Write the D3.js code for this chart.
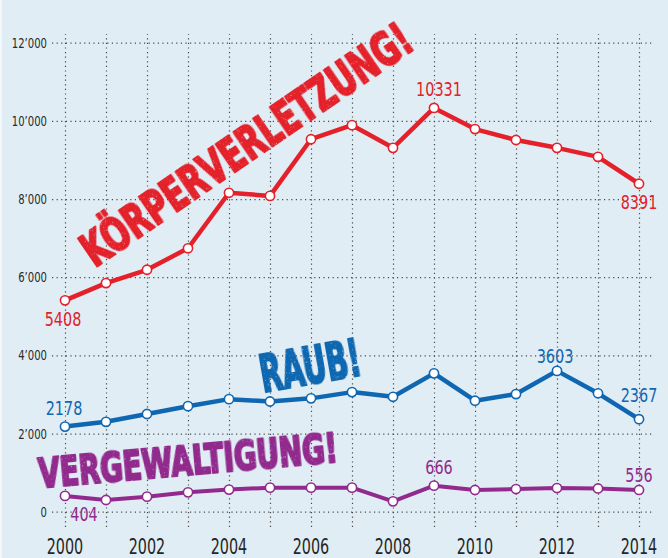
<!DOCTYPE html>
<html>
<head>
<meta charset="utf-8">
<script src="https://cdn.jsdelivr.net/npm/d3@7"></script>
<style>
  html, body { margin: 0; padding: 0; background: #e1edf4; }
  svg { display: block; }
</style>
</head>
<body>
<div id="chart"></div>
<script>
const WIDTH = 668;
const HEIGHT = 558;

// x = year, y = count
const years = [2000, 2001, 2002, 2003, 2004, 2005, 2006, 2007, 2008, 2009, 2010, 2011, 2012, 2013, 2014];
const yearTicks = [2000, 2002, 2004, 2006, 2008, 2010, 2012, 2014];
const valueTicks = [0, 2000, 4000, 6000, 8000, 10000, 12000];

const koerperverletzung = [5408, 5850, 6190, 6740, 8160, 8080, 9530, 9890, 9310, 10331, 9790, 9510, 9310, 9080, 8391];
const raub = [2178, 2300, 2500, 2700, 2880, 2820, 2900, 3060, 2940, 3540, 2840, 3010, 3603, 3030, 2367];
const vergewaltigung = [404, 300, 385, 495, 565, 615, 615, 615, 265, 666, 555, 580, 605, 595, 556];

const RED = "#e4202a";
const BLUE = "#0f67b1";
const PURPLE = "#922a8e";

const NARROW = "'DejaVu Sans Condensed', 'DejaVu Sans', sans-serif";

// which points get a number, and where it sits relative to the point
const labels = [
  { series: "k", year: 2000, dx: -2, dy: 26 },
  { series: "k", year: 2009, dx: 5, dy: -12 },
  { series: "k", year: 2014, dx: 0, dy: 25 },
  { series: "r", year: 2000, dx: -1, dy: -12 },
  { series: "r", year: 2012, dx: -2, dy: -8 },
  { series: "r", year: 2014, dx: 0, dy: -17 },
  { series: "v", year: 2000, dx: 19, dy: 25 },
  { series: "v", year: 2009, dx: 5, dy: -12 },
  { series: "v", year: 2014, dx: 0, dy: -8 }
];

const series = [
  { key: "k", values: koerperverletzung, color: RED, width: 4.5 },
  { key: "r", values: raub, color: BLUE, width: 4.5 },
  { key: "v", values: vergewaltigung, color: PURPLE, width: 4 }
];

// squeeze a text to a fraction of its natural width (no narrow font installed)
function squeeze(sel, k) {
  sel.each(function() {
    const w = this.getComputedTextLength();
    if (w > 0) d3.select(this).attr("textLength", w * k).attr("lengthAdjust", "spacingAndGlyphs");
  });
}

const svg = d3.select("#chart").append("svg")
  .attr("width", WIDTH)
  .attr("height", HEIGHT);

svg.append("rect").attr("width", WIDTH).attr("height", HEIGHT).attr("fill", "#e1edf4");
svg.append("rect").attr("width", 2).attr("height", HEIGHT).attr("fill", "#f2f7fa");

// rough stamp texture
const defs = svg.append("defs");
const f = defs.append("filter").attr("id", "grunge").attr("x", "-10%").attr("y", "-10%").attr("width", "120%").attr("height", "120%");
f.append("feTurbulence").attr("type", "fractalNoise").attr("baseFrequency", 0.9).attr("numOctaves", 2).attr("seed", 4).attr("result", "noise");
f.append("feColorMatrix").attr("in", "noise").attr("type", "matrix")
  .attr("values", "0 0 0 0 0  0 0 0 0 0  0 0 0 0 0  0 0 0 -4 3.7").attr("result", "mask");
f.append("feComposite").attr("in", "SourceGraphic").attr("in2", "mask").attr("operator", "in");

const x = d3.scaleLinear().domain([2000, 2014]).range([65, 639]);
const y = d3.scaleLinear().domain([0, 12000]).range([511.7, 42.7]);

// vertical grid, one per year
svg.append("g")
  .attr("transform", "translate(0,527)")
  .call(d3.axisBottom(x).tickValues(years).tickSize(-493).tickFormat(""))
  .call(g => g.select(".domain").remove())
  .call(g => g.selectAll("line").attr("stroke", "#4a4a4a").attr("stroke-width", 1.2).attr("stroke-dasharray", "1.2 3.4"));

// horizontal grid + value labels
const yAxis = svg.append("g")
  .attr("transform", "translate(52,0)")
  .call(d3.axisRight(y).tickValues(valueTicks).tickSize(600)
    .tickFormat(d => d === 0 ? "0" : d3.format(",")(d).replace(",", "\u2019")))
  .call(g => g.select(".domain").remove());
yAxis.selectAll("line").attr("stroke", "#4a4a4a").attr("stroke-width", 1.2).attr("stroke-dasharray", "1.2 3.4");
yAxis.selectAll("text")
  .attr("x", -5)
  .attr("text-anchor", "end")
  .attr("fill", "#2a2a2a")
  .style("font-family", NARROW)
  .style("font-size", "14px")
  .call(squeeze, 0.8);

// year labels
svg.append("g")
  .attr("transform", "translate(0,554)")
  .selectAll("text")
  .data(yearTicks)
  .join("text")
  .attr("x", d => x(d))
  .attr("text-anchor", "middle")
  .attr("fill", "#262626")
  .style("font-family", NARROW)
  .style("font-size", "21px")
  .text(d => d)
  .call(squeeze, 0.76);

// stamps behind the lines
function stamp(text, color, cx, cy, angle, size, len) {
  svg.append("text")
    .attr("transform", "translate(" + cx + "," + cy + ") rotate(" + angle + ")")
    .attr("y", size * 0.36)
    .attr("text-anchor", "middle")
    .attr("textLength", len)
    .attr("lengthAdjust", "spacingAndGlyphs")
    .attr("fill", color)
    .attr("stroke", color)
    .attr("stroke-width", 2.2)
    .attr("stroke-linejoin", "round")
    .attr("filter", "url(#grunge)")
    .style("font-family", "'DejaVu Sans Condensed', 'DejaVu Sans', sans-serif")
    .style("font-weight", "bold")
    .style("font-size", size + "px")
    .text(text);
}
stamp("KÖRPERVERLETZUNG!", RED, 246, 144, -34.4, 47, 390);
stamp("RAUB!", BLUE, 310, 365, -10, 52, 102);
stamp("VERGEWALTIGUNG!", PURPLE, 188, 461, -5, 40, 300);

const line = d3.line().x((d, i) => x(years[i])).y(d => y(d));

series.forEach(s => {
  svg.append("path")
    .datum(s.values)
    .attr("d", line)
    .attr("fill", "none")
    .attr("stroke", s.color)
    .attr("stroke-width", s.width)
    .attr("stroke-linejoin", "round");

  svg.append("g")
    .selectAll("circle")
    .data(s.values)
    .join("circle")
    .attr("cx", (d, i) => x(years[i]))
    .attr("cy", d => y(d))
    .attr("r", 4.6)
    .attr("fill", "#fff")
    .attr("stroke", s.color)
    .attr("stroke-width", 1.6);
});

// value numbers
labels.forEach(l => {
  const s = series.find(t => t.key === l.series);
  const v = s.values[years.indexOf(l.year)];
  svg.append("text")
    .attr("x", x(l.year) + l.dx)
    .attr("y", y(v) + l.dy)
    .attr("text-anchor", "middle")
    .attr("fill", s.color)
    .style("font-family", NARROW)
    .style("font-size", "20px")
    .text(v)
    .call(squeeze, 0.8);
});
</script>
</body>
</html>
